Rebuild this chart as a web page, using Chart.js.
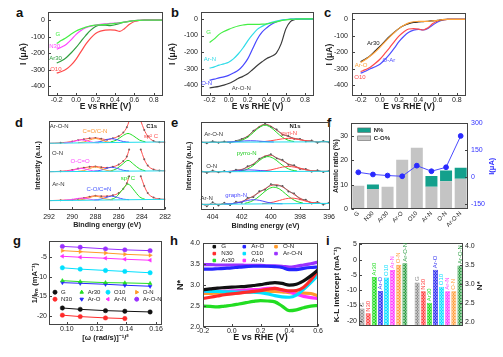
<!DOCTYPE html>
<html><head><meta charset="utf-8">
<script src="https://cdn.jsdelivr.net/npm/chart.js@4.4.1/dist/chart.umd.min.js"></script>
<style>
html,body{margin:0;padding:0;background:#fff;}
#wrap{position:relative;width:503px;height:357px;overflow:hidden;background:#fff;}
#wrap canvas{position:absolute;}
.lt{position:absolute;font:bold 13px "Liberation Sans",Arial,sans-serif;line-height:13px;color:#111;}
</style></head><body><div id="wrap">
<div class="lt" style="left:16px;top:6px">a</div>
<div class="lt" style="left:171px;top:6px">b</div>
<div class="lt" style="left:324px;top:6px">c</div>
<div class="lt" style="left:15px;top:116px">d</div>
<div class="lt" style="left:171px;top:116px">e</div>
<div class="lt" style="left:327px;top:116px">f</div>
<div class="lt" style="left:13px;top:234px">g</div>
<div class="lt" style="left:170px;top:234px">h</div>
<div class="lt" style="left:326px;top:234px">i</div>
</div>
<script>
// ---------------- DATA ----------------
// a-c : LSV curves, I (uA) vs E (V vs RHE)
const E_LSV  = [-0.2,-0.15,-0.1,-0.05,0,0.05,0.1,0.15,0.2,0.25,0.3,0.35,0.4,0.45,0.5,0.55,0.6,0.65,0.7,0.75,0.8,0.85,0.9];
const A_G    = [-141,-122,-105,-84,-66,-53,-42,-35,-30,-28,-26,-23,-20,-16,-12,-8,-3,-1,0,0,0,0,0];
const A_N30  = [-175,-162,-145,-118,-86,-62,-46,-36,-30,-25,-22,-20,-18,-15,-12,-8,-3,-1,0,0,0,0,0];
const A_AR30 = [-259,-245,-225,-197,-165,-128,-92,-60,-38,-30,-30,-33,-28,-20,-12,-6,-2,-1,0,0,0,0,0];
const A_O10  = [-320,-310,-295,-270,-235,-190,-145,-108,-80,-66,-60,-59,-60,-68,-50,-25,-8,-2,0,0,0,0,0];
const B_G    = [-142,-120,-93,-76,-63,-52,-43,-37,-33,-33,-33,-32,-30,-24,-18,-11,-6,-3,-2,-1,0,0,0];
const B_ARN  = [-296,-288,-278,-270,-260,-240,-211,-175,-132,-95,-63,-45,-30,-21,-14,-8,-4,-2,-1,0,0,0,0];
const B_ON   = [-368,-362,-354,-348,-339,-325,-309,-280,-240,-181,-122,-80,-53,-32,-18,-10,-4,-2,-1,0,0,0,0];
const B_ARON = [-414,-410,-405,-398,-388,-374,-358,-345,-329,-305,-280,-258,-238,-225,-205,-150,-60,-15,-3,0,0,0,0];
const C_AR30 = [-258,-240,-220,-192,-164,-134,-104,-78,-55,-38,-26,-19,-16,-14,-12,-9,-6,-2,0,0,0,0,0];
const C_ARO  = [-262,-244,-222,-198,-170,-138,-108,-80,-55,-36,-22,-15,-13,-12,-12,-9,-6,-2,0,0,0,0,0];
const C_O10  = [-317,-305,-290,-268,-242,-208,-173,-135,-100,-75,-59,-57,-59,-65,-51,-26,-10,-3,0,0,0,0,0];
const C_OAR  = [-327,-315,-300,-288,-272,-245,-213,-175,-134,-103,-79,-66,-61,-65,-55,-35,-16,-5,-1,0,0,0,0];
const TICK_LSV_X = [-0.2,0,0.2,0.4,0.6,0.8];
const TICK_LSV_Y = [0,-100,-200,-300,-400];

// d : C1s XPS (intensity a.u., stacked)
const C1S_X    = [292,291,290,289.5,289,288.5,288,287.5,287,286.5,286,285.6,285.3,285.1,284.6,284.1,283.8,283.5,283,282.5,282];
const C1S_ARON = [75,75.5,77,78.5,79.5,80.5,81,80,79,80.5,83,87,93,100,null,100,90,83,77.5,76.2,76];
const C1S_ON   = [43,43.5,45,46.5,47.5,48.5,49,48,47.5,48.5,51,55,60,68,null,68,57,50,45.5,44.3,44];
const C1S_ARN  = [10.5,11,11.5,12.5,13.5,15,16,15.5,15.5,16.5,19,24,30,38,null,38,27,19,14,12.5,12];
const C1S_BX   = [292,282];
const C1S_BASE_ARON = [75,76.5], C1S_BASE_ON = [43,44], C1S_BASE_ARN = [10.5,12];
const C1S_OCO_X = [290.7,290.2,289.7,289.2,288.7,288.2,287.7];
const C1S_CON_X = [289.5,289,288.5,288,287.5,287,286.5];
const C1S_CO_X  = [288.1,287.6,287.1,286.6,286.1,285.6,285.1];
const C1S_SP3_X = [286.7,286.2,285.7,285.2,284.7,284.2,283.7];
const C1S_OCO_ARON = [75.4,76.0,77.6,78.8,77.6,76.0,75.5];
const C1S_CON_ARON = [75.6,76.4,78.6,80.3,78.6,76.5,75.8];
const C1S_CO_ARON  = [76.0,76.8,78.8,80.2,78.8,76.9,76.2];
const C1S_SP3_ARON = [76.5,78.5,83.0,86.0,83.0,78.5,76.6];
const C1S_OCO_ON = [43.3,43.9,45.5,46.7,45.5,43.9,43.4];
const C1S_CON_ON = [43.5,44.3,46.6,48.3,46.6,44.4,43.7];
const C1S_CO_ON  = [43.7,44.5,46.6,48.0,46.6,44.6,43.9];
const C1S_SP3_ON = [43.9,46.2,51.2,55.8,51.2,46.2,44.0];
const C1S_OCO_ARN = [11.0,11.4,12.6,13.4,12.6,11.5,11.2];
const C1S_CON_ARN = [11.3,12.0,13.9,15.6,14.0,12.1,11.5];
const C1S_CO_ARN  = [11.4,12.1,14.0,15.6,14.0,12.2,11.6];
const C1S_SP3_ARN = [11.6,14.8,22.5,29.2,22.5,14.8,11.8];
const TICK_C1S_X = [292,290,288,286,284,282];

// e : N1s XPS
const N1S_X = [404.8,404.4,404.0,403.6,403.2,402.8,402.4,402.0,401.6,401.2,400.8,400.4,400.0,399.6,399.2,398.8,398.4,398.0,397.6,397.2,396.8,396.4,396.0];
const N1S_DATA_ARON = [77.5,75.8,78.2,76.4,77.9,76.5,78.6,80.9,83.2,90.3,94.1,98.2,94.6,91.5,85.4,84.2,80.8,80.9,77.9,79.1,76.3,78.6,76.8];
const N1S_FIT_ARON  = [77.0,77.0,77.0,77.1,77.1,77.3,77.8,80.2,84.0,89.5,94.9,97.4,95.4,90.6,86.3,83.4,81.5,79.9,78.8,78.0,77.6,77.5,77.5];
const N1S_DATA_ON = [44.6,42.1,44.9,42.8,44.3,42.7,45.9,45.1,49.8,51.6,58.4,60.7,63.5,58.6,57.1,51.3,50.9,46.5,46.6,43.5,45.2,43.1,44.5];
const N1S_FIT_ON  = [43.4,43.4,43.4,43.5,43.5,44.0,44.8,46.2,48.6,52.5,57.3,61.5,62.2,59.3,55.8,52.4,49.8,47.6,45.7,44.7,44.2,44.0,44.0];
const N1S_DATA_ARN = [7.5,4.2,8.8,5.1,8.3,5.5,9.4,8.2,13.9,14.6,21.4,23.1,29.5,27.6,27.4,21.0,18.9,12.1,11.8,7.3,9.2,6.0,8.4];
const N1S_FIT_ARN  = [6.4,6.4,6.5,6.5,6.7,7.0,7.9,9.7,12.4,16.0,19.95,24.2,27.8,28.7,26.2,22.1,17.5,13.5,10.5,8.5,7.7,7.4,7.5];
const N1S_BX = [404.8,396.0];
const N1S_BASE_ARON = [77.0,77.5], N1S_BASE_ON = [43.4,44.0], N1S_BASE_ARN = [6.4,7.5];
const PYRRO_X_ARON = [402.4,402.0,401.6,401.2,400.8,400.4,400.0,399.6,399.2,398.8,398.4];
const PYRRO_ARON   = [77.8,79.2,82.6,88.1,93.8,96.3,93.8,88.1,82.6,79.2,77.8];
const PYRI_X_ARON  = [400.8,400.4,400.0,399.6,399.2,398.8,398.4,398.0,397.6,397.2,396.8];
const PYRI_ARON    = [77.6,77.9,78.7,79.8,80.9,81.4,80.9,79.8,78.7,78.0,77.6];
const GRAPH_X_ARON = [403.0,402.6,402.2,401.8,401.4,401.0,400.6,400.2,399.8];
const GRAPH_ARON   = [77.3,77.5,78.0,78.5,78.7,78.5,78.0,77.6,77.3];
const PYRRO_X_ON = [402.2,401.8,401.4,401.0,400.6,400.2,399.8,399.4,399.0,398.6,398.2];
const PYRRO_ON   = [44.1,45.3,48.4,53.3,58.5,60.7,58.5,53.4,48.5,45.5,44.3];
const PYRI_X_ON  = [400.8,400.4,400.0,399.6,399.2,398.8,398.4,398.0,397.6,397.2,396.8];
const PYRI_ON    = [44.0,44.6,45.6,47.2,48.8,49.5,48.8,47.3,45.7,44.7,44.2];
const GRAPH_X_ON = [403.1,402.7,402.3,401.9,401.5,401.1,400.7,400.3,399.9];
const GRAPH_ON   = [43.6,44.0,44.7,45.3,45.6,45.3,44.8,44.2,43.8];
const PYRRO_X_ARN = [401.8,401.4,401.0,400.6,400.2,399.8,399.4,399.0,398.6,398.2,397.8];
const PYRRO_ARN   = [7.5,9.4,13.0,18.4,23.7,25.9,23.8,18.5,13.2,9.6,7.9];
const PYRI_X_ARN  = [400.6,400.2,399.8,399.4,399.0,398.6,398.2,397.8,397.4,397.0,396.6];
const PYRI_ARN    = [7.2,7.8,9.1,10.9,12.7,13.5,12.8,11.0,9.2,8.0,7.5];
const GRAPH_X_ARN = [403.2,402.8,402.4,402.0,401.6,401.2,400.8,400.4,400.0,399.6,399.2];
const GRAPH_ARN   = [6.8,7.1,7.8,9.3,10.9,11.7,11.0,9.4,7.9,7.3,7.1];
const TICK_N1S_X = [404,402,400,398,396];

// f : atomic ratio bars + current
const F_CATS = ['G','N30','Ar30','Ar-O','O10','Ar-N','O-N','Ar-O-N'];
const F_CO = [9.6,8.2,9.2,20.3,25.2,9.2,11.4,12.4];
const F_N  = [0,1.9,0,0,0,4.4,4.4,4.6];
const F_I  = [27,15,9,5,64,33,55,229];
const TICK_F_Y = [0,10,20,30];
const TICK_F_Y2 = [-150,0,150,300];

// g : K-L plots
const G_X = [0.097,0.109,0.126,0.139,0.156];
const G_G    = [-17.98,-18.32,-18.65,-18.8,-18.98];
const G_N30  = [-19.8,-20.16,-20.5,-20.66,null];
const G_AR30 = [-11.03,-11.28,-11.53,-11.6,-11.75];
const G_ARO  = [-11.53,-11.7,-11.95,-12.2,-12.45];
const G_O10  = [-7.76,-8.1,-8.43,-8.68,-9.02];
const G_ARN  = [-4.83,-5.08,-5.33,-5.59,-5.84];
const G_ON   = [-3.4,-3.66,-4.0,-4.33,-4.58];
const G_ARON = [-2.32,-2.55,-2.95,-3.2,-3.4];
const TICK_G_X = [0.10,0.12,0.14,0.16];
const TICK_G_Y = [-5,-10,-15,-20];

// h : electron transfer number
const E_H = [-0.2,-0.15,-0.1,-0.05,0,0.05,0.1,0.15,0.2,0.25,0.3,0.35,0.4,0.45,0.5,0.55,0.6];
const H_G    = [2.89,2.91,2.93,2.94,2.95,2.96,2.97,2.99,3.01,3.04,3.06,3.04,3.00,3.02,3.10,3.22,3.36];
const H_N30  = [2.68,2.71,2.74,2.77,2.79,2.81,2.83,2.85,2.87,2.90,2.92,2.89,2.86,2.87,2.95,3.12,3.35];
const H_AR30 = [2.50,2.49,2.48,2.50,2.52,2.55,2.58,2.61,2.63,2.62,2.60,2.50,2.39,2.41,2.46,2.50,2.51];
const H_ARO  = [3.38,3.38,3.39,3.40,3.41,3.43,3.44,3.45,3.45,3.45,3.44,3.42,3.37,3.37,3.40,3.42,3.43];
const H_O10  = [2.86,2.85,2.85,2.84,2.84,2.83,2.83,2.83,2.82,2.79,2.75,2.72,2.71,2.76,2.90,3.06,3.24];
const H_ARN  = [2.85,2.85,2.85,2.85,2.86,2.87,2.88,2.89,2.90,2.92,2.92,2.88,2.84,2.78,2.73,2.70,2.68];
const H_ON   = [2.80,2.80,2.81,2.81,2.81,2.82,2.83,2.84,2.84,2.85,2.85,2.84,2.82,2.81,2.81,2.80,2.74];
const H_ARON = [3.49,3.49,3.48,3.48,3.48,3.48,3.47,3.47,3.47,3.46,3.46,3.45,3.43,3.45,3.48,3.51,3.55];
const TICK_H_X = [-0.2,0,0.2,0.4,0.6];
const TICK_H_Y = [2.0,2.5,3.0,3.5,4.0];

// i : K-L intercept and N
const I_CATS = ['G','N30','Ar30','Ar-O','O10','Ar-N','O-N','Ar-O-N'];
const I_KL = [-16.0,-17.6,-5.65,-10.3,-5.85,-3.4,-1.7,-1.2];
const I_NE = [3.04,2.81,2.51,3.38,2.93,2.81,2.81,3.49];
const TICK_I_Y = [5,0,-5,-10,-15,-20];
const TICK_I_Y2 = [2.0,2.5,3.0,3.5,4.0];

// ---------------- HELPERS ----------------
const FF = '"Liberation Sans", Arial, Helvetica, sans-serif';
Chart.defaults.font.family = FF;
Chart.defaults.color = '#222';
const wrap = document.getElementById('wrap');
const pts = (X, Y) => X.map((x, i) => ({x, y: Y[i]}));

const framePlugin = {
  id: 'frame',
  afterDatasetsDraw(chart, args, opts) {
    const {ctx, chartArea: a} = chart;
    ctx.save();
    ctx.strokeStyle = '#444'; ctx.lineWidth = 1;
    const L = Math.round(a.left) + 0.5, R = Math.round(a.right) - 0.5, T = Math.round(a.top) + 0.5, B = Math.round(a.bottom) - 0.5;
    ctx.strokeRect(L, T, R - L, B - T);
    (opts.ticks || []).forEach(id => {
      const s = chart.scales[id]; if (!s) return;
      s.ticks.forEach((t, i) => {
        const p = Math.round(s.getPixelForTick(i)) + 0.5;
        ctx.beginPath();
        if (s.isHorizontal()) { ctx.moveTo(p, B); ctx.lineTo(p, B - 2.5); }
        else if (s.position === 'right') { ctx.moveTo(R, p); ctx.lineTo(R - 2.5, p); }
        else { ctx.moveTo(L, p); ctx.lineTo(L + 2.5, p); }
        ctx.stroke();
      });
    });
    ctx.restore();
  }
};
const notesPlugin = {
  id: 'notes',
  afterDraw(chart, args, opts) {
    if (!opts.items) return;
    const {ctx, chartArea: a} = chart;
    opts.items.forEach(it => {
      ctx.save();
      ctx.font = `${it.bold ? 'bold ' : ''}${it.size || 6}px ${FF}`;
      ctx.fillStyle = it.color || '#333';
      ctx.textAlign = it.align || 'center'; ctx.textBaseline = 'middle';
      ctx.translate(a.left + it.dx, a.top + it.dy);
      if (it.rot) ctx.rotate(it.rot * Math.PI / 180);
      ctx.fillText(it.text, 0, 0);
      ctx.restore();
    });
  }
};
const legendPlugin = {
  id: 'lg',
  afterDraw(chart, args, opts) {
    if (!opts.items) return;
    const {ctx, chartArea: a} = chart;
    ctx.save();
    ctx.font = `${opts.bold ? 'bold ' : ''}${opts.size || 6}px ${FF}`;
    ctx.textBaseline = 'middle'; ctx.textAlign = 'left';
    opts.items.forEach(it => {
      const ds = chart.data.datasets[it.ds];
      const x = a.left + it.dx, y = a.top + it.dy;
      const c = ds.legendColor || ds.borderColor;
      ctx.fillStyle = c; ctx.strokeStyle = c;
      if (it.box) {
        ctx.fillStyle = ds.backgroundColor; ctx.fillRect(x, y - it.box[1] / 2, it.box[0], it.box[1]);
        ctx.strokeStyle = '#666'; ctx.lineWidth = 0.6; ctx.strokeRect(x, y - it.box[1] / 2, it.box[0], it.box[1]);
      } else {
        Chart.helpers.drawPoint(ctx, {pointStyle: it.style || ds.pointStyle || 'circle', radius: it.r || 2, rotation: ds.pointRotation || 0, borderWidth: 0.5}, x, y);
      }
      ctx.fillStyle = opts.textColor || '#222';
      ctx.fillText(ds.label, x + (it.tx || 6), y);
    });
    ctx.restore();
  }
};
const barLabelPlugin = {
  id: 'barlab',
  afterDatasetsDraw(chart, args, opts) {
    if (!opts.colors) return;
    const {ctx} = chart;
    ctx.save();
    ctx.font = `${opts.size || 6}px ${FF}`;
    ctx.textBaseline = 'middle'; ctx.textAlign = 'left';
    chart.data.datasets.forEach((ds, di) => {
      chart.getDatasetMeta(di).data.forEach((el, i) => {
        if (ds.data[i] == null) return;
        const name = chart.data.labels[i];
        ctx.save(); ctx.translate(el.x, el.y - 1.5); ctx.rotate(-Math.PI / 2);
        ctx.fillStyle = opts.colors[name]; ctx.fillText(name, 0, 0); ctx.restore();
      });
    });
    ctx.restore();
  }
};

function axis(pos, o) {
  const a = {
    position: pos, type: o.type || 'linear', reverse: !!o.reverse,
    grid: {display: false, drawTicks: false},
    border: {display: false},
    ticks: {display: o.tickDisplay !== false, font: {size: o.tsize || 7}, color: o.tcolor || '#222',
            padding: o.tpad ?? 2, maxRotation: o.rot || 0, minRotation: o.rot || 0, autoSkip: false},
    title: {display: !!o.title, text: o.title || '', font: {size: o.fsize || 8.5, weight: 'bold'}, color: o.fcolor || '#222', padding: 0}
  };
  if (o.min !== undefined) a.min = o.min;
  if (o.max !== undefined) a.max = o.max;
  if (o.stacked) a.stacked = true;
  if (o.ticksArr) a.afterBuildTicks = s => { s.ticks = o.ticksArr.map(v => ({value: v})); };
  if (o.fmt) a.ticks.callback = o.fmt;
  return a;
}

function mk(box, pad, type, data, scales, plugins, extra) {
  const [L, T, R, B] = box;
  const W = R - L + pad.l + pad.r, H = B - T + pad.t + pad.b;
  const cv = document.createElement('canvas');
  cv.width = W; cv.height = H;
  Object.assign(cv.style, {left: (L - pad.l) + 'px', top: (T - pad.t) + 'px', width: W + 'px', height: H + 'px'});
  wrap.appendChild(cv);
  let hasRight = false;
  for (const k in scales) {
    const s = scales[k];
    if (s.position === 'left') s.afterFit = sc => { sc.width = pad.l; };
    else if (s.position === 'right') { hasRight = true; s.afterFit = sc => { sc.width = pad.r; }; }
    else if (s.position === 'bottom') s.afterFit = sc => { sc.height = pad.b; };
  }
  return new Chart(cv, {
    type, data,
    options: Object.assign({
      responsive: false, animation: false, devicePixelRatio: 1, events: [],
      layout: {padding: {left: 0, top: pad.t, right: hasRight ? 0 : pad.r, bottom: 0}},
      scales,
      plugins: Object.assign({legend: {display: false}, tooltip: {enabled: false}}, plugins)
    }, extra || {}),
    plugins: [framePlugin, notesPlugin, legendPlugin, barLabelPlugin]
  });
}

function ln(label, X, Y, color, w, extra) {
  return Object.assign({label, data: pts(X, Y), borderColor: color, backgroundColor: color, borderWidth: w || 1.2,
    pointRadius: 0, fill: false, cubicInterpolationMode: 'monotone', spanGaps: false}, extra || {});
}
const f1 = v => Number(v).toFixed(1), f2 = v => Number(v).toFixed(2);

// ---------------- COLORS ----------------
const CL = {G:'#44ee44', N30:'#ff44ff', Ar30a:'#2e9e3e', O10:'#ff4a4a', ArN:'#30dce8', ON:'#4848ff', ArON:'#3a3a3a', Ar30c:'#222222', ArO:'#ffa33a', OAr:'#4f4fff'};
const COL = {G:'#111111', N30:'#ff2a2a', Ar30:'#22dd22', 'Ar-O':'#2525ff', O10:'#00e0ff', 'Ar-N':'#ff30ff', 'O-N':'#ff9a2a', 'Ar-O-N':'#9a30ff'};
const XPS = {base:'#22dcee', oco:'#ff44ff', con:'#ff9933', co:'#4455ff', sp3:'#22dd22', env:'#ff5050', dot:'#7a5a5a'};

// ---------------- a ----------------
const lsvScales = (minY, maxY, ypad) => ({
  x: axis('bottom', {min: -0.29, max: 0.895, ticksArr: TICK_LSV_X, fmt: f1, tpad: 0, title: 'E vs RHE (V)'}),
  y: axis('left', {min: minY, max: maxY, ticksArr: TICK_LSV_Y, tpad: ypad, title: 'I (μA)'})
});
mk([48, 11, 163, 96], {l: 29, r: 8, t: 6, b: 16}, 'line', {datasets: [
  ln('G', E_LSV, A_G, CL.G), ln('N30', E_LSV, A_N30, CL.N30), ln('Ar30', E_LSV, A_AR30, CL.Ar30a), ln('O10', E_LSV, A_O10, CL.O10)
]}, lsvScales(-458, 48, 3), {
  frame: {ticks: ['x', 'y']},
  notes: {items: [
    {dx: 9.8, dy: 22.3, text: 'G', color: CL.G}, {dx: 6.7, dy: 34.5, text: 'N30', color: CL.N30},
    {dx: 7.5, dy: 45.7, text: 'Ar30', color: CL.Ar30a}, {dx: 7.8, dy: 56.7, text: 'O10', color: CL.O10}]}
});

// ---------------- b ----------------
mk([201, 11, 314, 96], {l: 33, r: 8, t: 6, b: 16}, 'line', {datasets: [
  ln('G', E_LSV, B_G, CL.G), ln('Ar-N', E_LSV, B_ARN, CL.ArN), ln('O-N', E_LSV, B_ON, CL.ON), ln('Ar-O-N', E_LSV, B_ARON, CL.ArON)
]}, lsvScales(-463, 40, 3), {
  frame: {ticks: ['x', 'y']},
  notes: {items: [
    {dx: 7.7, dy: 19.7, text: 'G', color: CL.G}, {dx: 9, dy: 47.3, text: 'Ar-N', color: CL.ArN},
    {dx: 5.7, dy: 70.7, text: 'O-N', color: CL.ON}, {dx: 40.3, dy: 76.3, text: 'Ar-O-N', color: CL.ArON}]}
});

// ---------------- c ----------------
mk([352, 11, 466, 96], {l: 27, r: 8, t: 6, b: 16}, 'line', {datasets: [
  ln('Ar-O', E_LSV, C_ARO, CL.ArO), ln('Ar30', E_LSV, C_AR30, CL.Ar30c), ln('O10', E_LSV, C_O10, CL.O10), ln('O-Ar', E_LSV, C_OAR, CL.OAr)
]}, lsvScales(-465, 37, 4), {
  frame: {ticks: ['x', 'y']},
  notes: {items: [
    {dx: 21.3, dy: 29.7, text: 'Ar30', color: CL.Ar30c}, {dx: 9.2, dy: 52.3, text: 'Ar-O', color: CL.ArO},
    {dx: 8, dy: 64, text: 'O10', color: CL.O10}, {dx: 36.8, dy: 47.3, text: 'O-Ar', color: CL.OAr}]}
});

// ---------------- d ----------------
function c1sSet(base, oco, con, co, sp3, env) {
  return [
    ln('base', C1S_BX, base, XPS.base, 1),
    ln('oco', C1S_OCO_X, oco, XPS.oco, 1), ln('con', C1S_CON_X, con, XPS.con, 1),
    ln('co', C1S_CO_X, co, XPS.co, 1), ln('sp3', C1S_SP3_X, sp3, XPS.sp3, 1),
    ln('env', C1S_X, env, XPS.env, 1, {pointRadius: 1, pointBackgroundColor: XPS.dot, pointBorderWidth: 0})
  ];
}
mk([49, 121, 166, 210], {l: 15, r: 8, t: 6, b: 19}, 'line', {datasets: [
  ...c1sSet(C1S_BASE_ARON, C1S_OCO_ARON, C1S_CON_ARON, C1S_CO_ARON, C1S_SP3_ARON, C1S_ARON),
  ...c1sSet(C1S_BASE_ON, C1S_OCO_ON, C1S_CON_ON, C1S_CO_ON, C1S_SP3_ON, C1S_ON),
  ...c1sSet(C1S_BASE_ARN, C1S_OCO_ARN, C1S_CON_ARN, C1S_CO_ARN, C1S_SP3_ARN, C1S_ARN)
]}, {
  x: axis('bottom', {min: 282, max: 292, reverse: true, ticksArr: TICK_C1S_X, tpad: 3, title: 'Binding energy (eV)', fsize: 7.2}),
  y: axis('left', {min: 0, max: 100, tickDisplay: false, title: 'Intensity (a.u.)', fsize: 7.2})
}, {
  frame: {ticks: ['x']},
  notes: {items: [
    {dx: 10.2, dy: 5, text: 'Ar-O-N', color: '#333'}, {dx: 102.7, dy: 5, text: 'C1s', color: '#222', bold: true},
    {dx: 46, dy: 10, text: 'C=O/C-N', color: XPS.con}, {dx: 101.8, dy: 15.7, text: 'sp² C', color: XPS.env},
    {dx: 8.5, dy: 32.3, text: 'O-N', color: '#333'}, {dx: 31.2, dy: 40.7, text: 'O-C=O', color: XPS.oco},
    {dx: 9.3, dy: 63, text: 'Ar-N', color: '#333'}, {dx: 78.8, dy: 57.3, text: 'sp³ C', color: XPS.sp3},
    {dx: 49.8, dy: 68.3, text: 'C-O/C=N', color: XPS.co}]}
});

// ---------------- e ----------------
function n1sSet(base, graX, gra, pyrX, pyr, piX, pi, fit, dat) {
  return [
    ln('base', N1S_BX, base, XPS.base, 1),
    ln('graph', graX, gra, '#4a4aff', 1), ln('pyri', piX, pi, '#ff4a4a', 1), ln('pyrro', pyrX, pyr, '#22dd22', 1),
    ln('data', N1S_X, dat, '#6a6a6a', 0.8, {cubicInterpolationMode: 'default', tension: 0, pointRadius: 0.9, pointBackgroundColor: '#555', pointBorderWidth: 0}),
    ln('fit', N1S_X, fit, '#e85050', 1)
  ];
}
mk([201, 122, 330, 210], {l: 16, r: 8, t: 6, b: 20}, 'line', {datasets: [
  ...n1sSet(N1S_BASE_ARON, GRAPH_X_ARON, GRAPH_ARON, PYRRO_X_ARON, PYRRO_ARON, PYRI_X_ARON, PYRI_ARON, N1S_FIT_ARON, N1S_DATA_ARON),
  ...n1sSet(N1S_BASE_ON, GRAPH_X_ON, GRAPH_ON, PYRRO_X_ON, PYRRO_ON, PYRI_X_ON, PYRI_ON, N1S_FIT_ON, N1S_DATA_ON),
  ...n1sSet(N1S_BASE_ARN, GRAPH_X_ARN, GRAPH_ARN, PYRRO_X_ARN, PYRRO_ARN, PYRI_X_ARN, PYRI_ARN, N1S_FIT_ARN, N1S_DATA_ARN)
]}, {
  x: axis('bottom', {min: 395.95, max: 404.8, reverse: true, ticksArr: TICK_N1S_X, tpad: 3, title: 'Binding energy (eV)', fsize: 7.2}),
  y: axis('left', {min: 0, max: 100, tickDisplay: false, title: 'Intensity (a.u.)', fsize: 7.2})
}, {
  frame: {ticks: ['x']},
  notes: {items: [
    {dx: 94, dy: 4, text: 'N1s', color: '#222', bold: true},
    {dx: 12.7, dy: 12, text: 'Ar-O-N', color: '#333'}, {dx: 88.2, dy: 11.3, text: 'pyri-N', color: '#ff4a4a'},
    {dx: 45.7, dy: 31.3, text: 'pyrro-N', color: '#22cc22'}, {dx: 10.7, dy: 44.7, text: 'O-N', color: '#333'},
    {dx: 35.2, dy: 73, text: 'graph-N', color: '#4a4aff'}, {dx: 5.7, dy: 76.3, text: 'Ar-N', color: '#333'}]}
});

// ---------------- f ----------------
mk([351, 122, 468, 209], {l: 19, r: 29, t: 6, b: 20}, 'bar', {labels: F_CATS, datasets: [
  {type: 'bar', label: 'C-O%', data: F_CO, backgroundColor: '#c4c4c4', borderWidth: 0, stack: 's', order: 2, barPercentage: 0.82, categoryPercentage: 1},
  {type: 'bar', label: 'N%', data: F_N, backgroundColor: '#14a08c', borderWidth: 0, stack: 's', order: 2, barPercentage: 0.82, categoryPercentage: 1},
  {type: 'line', label: 'I', data: F_I, yAxisID: 'y2', borderColor: '#4a4aff', backgroundColor: '#2a2aff', borderWidth: 1,
   pointRadius: 2.4, pointBackgroundColor: '#2a2aff', pointBorderColor: '#2a2aff', order: 0, tension: 0}
]}, {
  x: axis('bottom', {type: 'category', stacked: true, rot: 45, tsize: 6, tpad: 1}),
  y: axis('left', {min: 0, max: 35.3, stacked: true, ticksArr: TICK_F_Y, tpad: 3, title: 'Atomic ratio (%)', fsize: 7}),
  y2: axis('right', {min: -177, max: 300, ticksArr: TICK_F_Y2, tpad: 3, tcolor: '#3333ff'})
}, {
  frame: {ticks: ['y', 'y2']},
  lg: {bold: true, size: 6, items: [{ds: 1, dx: 6.7, dy: 7, box: [13, 4.5], tx: 16}, {ds: 0, dx: 6.7, dy: 15, box: [13, 4.5], tx: 16}]},
  notes: {items: [{dx: 141, dy: 43, text: 'I(μA)', color: '#3333ff', bold: true, size: 7.5, rot: -90}]}
});

// ---------------- g ----------------
function kl(name, Y, style, rot) {
  return ln(name, G_X, Y, COL[name], 1, {cubicInterpolationMode: 'default', tension: 0, pointRadius: 2.2,
    pointStyle: style, pointRotation: rot || 0, pointBackgroundColor: COL[name], pointBorderColor: COL[name], pointBorderWidth: 0.5, spanGaps: true});
}
mk([49, 241, 162, 325], {l: 19, r: 8, t: 6, b: 17}, 'line', {datasets: [
  kl('G', G_G, 'circle'), kl('N30', G_N30, 'circle'), kl('Ar30', G_AR30, 'triangle'), kl('Ar-O', G_ARO, 'triangle', 180),
  kl('O10', G_O10, 'circle'), kl('Ar-N', G_ARN, 'triangle', 270), kl('O-N', G_ON, 'triangle', 90), kl('Ar-O-N', G_ARON, 'circle')
]}, {
  x: axis('bottom', {min: 0.088, max: 0.164, ticksArr: TICK_G_X, fmt: f2, tpad: 0, title: '[ω (rad/s)]⁻¹/²', fsize: 7.5}),
  y: axis('left', {min: -22.3, max: -1, ticksArr: TICK_G_Y, tpad: 2, title: '1/Iₗᵢₘ (mA⁻¹)', fsize: 7.5})
}, {
  frame: {ticks: ['x', 'y']},
  lg: {size: 6, items: [
    {ds: 0, dx: 6, dy: 51}, {ds: 2, dx: 32.7, dy: 51}, {ds: 4, dx: 59, dy: 51}, {ds: 6, dx: 87.7, dy: 51},
    {ds: 1, dx: 6, dy: 58}, {ds: 3, dx: 32.7, dy: 58}, {ds: 5, dx: 59, dy: 58}, {ds: 7, dx: 87.7, dy: 58}]}
});

// ---------------- h ----------------
const hl = (name, Y) => ln(name, E_H, Y, COL[name], 3.2, {pointStyle: 'rect'});
mk([203, 242, 318, 327], {l: 28, r: 8, t: 6, b: 16}, 'line', {datasets: [
  hl('G', H_G), hl('N30', H_N30), hl('Ar30', H_AR30), hl('Ar-O', H_ARO),
  hl('O10', H_O10), hl('Ar-N', H_ARN), hl('O-N', H_ON), hl('Ar-O-N', H_ARON)
]}, {
  x: axis('bottom', {min: -0.2, max: 0.6, ticksArr: TICK_H_X, fmt: f1, tpad: 0, title: 'E vs RHE (V)', fsize: 9}),
  y: axis('left', {min: 2.0, max: 4.0, ticksArr: TICK_H_Y, fmt: f1, tpad: 3, title: 'N*', fsize: 9})
}, {
  frame: {ticks: ['x', 'y']},
  lg: {size: 6.2, items: [
    {ds: 0, dx: 11.3, dy: 3.5, r: 1.8, tx: 7}, {ds: 3, dx: 41.3, dy: 3.5, r: 1.8, tx: 7}, {ds: 6, dx: 73, dy: 3.5, r: 1.8, tx: 7},
    {ds: 1, dx: 11.3, dy: 10.4, r: 1.8, tx: 7}, {ds: 4, dx: 41.3, dy: 10.4, r: 1.8, tx: 7}, {ds: 7, dx: 73, dy: 10.4, r: 1.8, tx: 7},
    {ds: 2, dx: 11.3, dy: 17.3, r: 1.8, tx: 7}, {ds: 5, dx: 41.3, dy: 17.3, r: 1.8, tx: 7}]}
});

// ---------------- i ----------------
const I_COL = {G:'#8e8e8e', N30:'#ff4040', Ar30:'#22dd22', 'Ar-O':'#3535f0', O10:'#10e0ff', 'Ar-N':'#ff40ff', 'O-N':'#ffa040', 'Ar-O-N':'#2e9e44'};
function hatch(color) {
  const c = document.createElement('canvas'); c.width = 3; c.height = 3;
  const x = c.getContext('2d');
  x.fillStyle = color; x.fillRect(0, 0, 3, 3);
  x.fillStyle = 'rgba(255,255,255,0.45)';
  x.fillRect(0, 0, 1, 1); x.fillRect(2, 0, 1, 1); x.fillRect(1, 1, 1, 1); x.fillRect(0, 2, 1, 1); x.fillRect(2, 2, 1, 1);
  return x.createPattern(c, 'repeat');
}
const I_LABELS = [...I_CATS, '', ...I_CATS];
const gapN = I_CATS.length + 1;
const I_BG = I_LABELS.map(n => n ? hatch(I_COL[n]) : 'transparent');
const I_BD = I_LABELS.map(n => n ? I_COL[n] : 'transparent');
mk([359, 243, 463, 328], {l: 27, r: 22, t: 6, b: 4}, 'bar', {labels: I_LABELS, datasets: [
  {label: 'K-L', data: [...I_KL, ...Array(gapN).fill(null)], yAxisID: 'y', base: -21.7, grouped: false,
   backgroundColor: I_BG, borderColor: I_BD, borderWidth: 0.8, barPercentage: 0.82, categoryPercentage: 1},
  {label: 'N', data: [...Array(gapN).fill(null), ...I_NE], yAxisID: 'y2', base: 1.9, grouped: false,
   backgroundColor: I_BG, borderColor: I_BD, borderWidth: 0.8, barPercentage: 0.82, categoryPercentage: 1}
]}, {
  x: axis('bottom', {type: 'category', tickDisplay: false}),
  y: axis('left', {min: -21.7, max: 5.4, ticksArr: TICK_I_Y, tpad: 2, title: 'K-L intercept (mA⁻¹)', fsize: 8}),
  y2: axis('right', {min: 1.9, max: 4.08, ticksArr: TICK_I_Y2, fmt: f1, tpad: 2})
}, {
  frame: {ticks: ['y', 'y2']},
  barlab: {colors: I_COL, size: 6},
  notes: {items: [{dx: 121, dy: 42.5, text: 'N*', color: '#222', bold: true, size: 8, rot: -90}]}
});
</script></body></html>
